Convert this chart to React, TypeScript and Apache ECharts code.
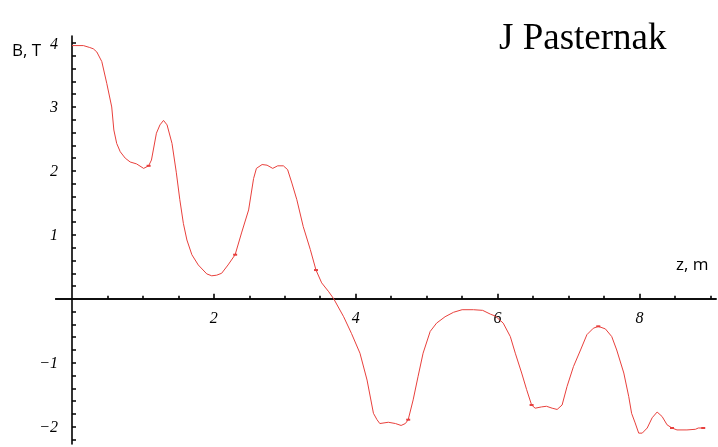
import React, { useEffect, useRef } from "react";
import * as echarts from "echarts";

const zValues = [
  0.0, 0.16, 0.25, 0.3, 0.35, 0.42, 0.49, 0.56, 0.59, 0.63, 0.68, 0.75, 0.82, 0.91, 1.01, 1.08, 1.12, 1.19, 1.24, 1.29,
  1.34, 1.41, 1.47, 1.52, 1.57, 1.62, 1.69, 1.78, 1.9, 1.97, 2.04, 2.11, 2.2, 2.3, 2.39, 2.49, 2.56, 2.6, 2.68, 2.75,
  2.83, 2.9, 2.98, 3.04, 3.1, 3.17, 3.26, 3.36, 3.44, 3.52, 3.62, 3.69, 3.83, 3.94, 4.06, 4.16, 4.25, 4.3, 4.34, 4.46,
  4.56, 4.64, 4.7, 4.74, 4.81, 4.88, 4.95, 5.05, 5.14, 5.26, 5.38, 5.5, 5.66, 5.79, 5.9, 5.97, 6.08, 6.18, 6.25, 6.34,
  6.41, 6.48, 6.53, 6.62, 6.69, 6.77, 6.84, 6.91, 6.98, 7.07, 7.17, 7.26, 7.35, 7.42, 7.52, 7.61, 7.68, 7.78, 7.85, 7.89,
  7.94, 7.99, 8.04, 8.11, 8.18, 8.25, 8.32, 8.39, 8.46, 8.53, 8.67, 8.79, 8.83, 8.9,
];
const bValues = [
  3.96, 3.96, 3.93, 3.91, 3.86, 3.71, 3.37, 3.0, 2.64, 2.43, 2.3, 2.2, 2.14, 2.11, 2.04, 2.08, 2.17, 2.59, 2.72, 2.79,
  2.72, 2.43, 1.98, 1.55, 1.18, 0.92, 0.69, 0.53, 0.39, 0.36, 0.37, 0.4, 0.53, 0.69, 1.03, 1.39, 1.88, 2.04, 2.1, 2.09,
  2.04, 2.08, 2.08, 2.02, 1.81, 1.55, 1.13, 0.77, 0.45, 0.25, 0.11, 0.0, -0.28, -0.54, -0.85, -1.27, -1.79, -1.89, -1.95, -1.93,
  -1.95, -1.98, -1.95, -1.89, -1.58, -1.21, -0.85, -0.51, -0.38, -0.28, -0.21, -0.17, -0.17, -0.18, -0.24, -0.27, -0.38, -0.59, -0.85, -1.16,
  -1.42, -1.66, -1.71, -1.69, -1.68, -1.71, -1.73, -1.66, -1.37, -1.06, -0.8, -0.56, -0.46, -0.43, -0.47, -0.59, -0.8, -1.16, -1.53, -1.79,
  -1.94, -2.1, -2.1, -2.02, -1.86, -1.77, -1.84, -1.97, -2.02, -2.05, -2.05, -2.04, -2.02, -2.02,
];
const markerZ = [1.08, 2.3, 3.44, 4.74, 6.48, 7.42, 8.46, 8.9];
const markerB = [2.08, 0.69, 0.45, -1.89, -1.66, -0.43, -2.02, -2.02];

const xMinorTicks = [0.5, 1, 1.5, 2.5, 3, 3.5, 4.5, 5, 5.5, 6.5, 7, 7.5, 8.5, 9];
const xMajorTicks = [2, 4, 6, 8];
const yTicks = [
  -2.2, -2.0, -1.8, -1.6, -1.4, -1.2, -1.0, -0.8, -0.6, -0.4, -0.2, 0.2, 0.4, 0.6, 0.8, 1.0, 1.2, 1.4, 1.6, 1.8, 2.0,
  2.2, 2.4, 2.6, 2.8, 3.0, 3.2, 3.4, 3.6, 3.8, 4.0,
];
const yLabels = [-2, -1, 1, 2, 3, 4];

const X_MIN = -0.23;
const X_MAX = 9.08;
const Y_MIN = -2.27;
const Y_MAX = 4.11;
const W = 718;
const H = 447;
const GRID = { left: 55.7, right: 2, top: 36, bottom: 3 };

const fmt = (v: number) => (v < 0 ? "\u2212" + Math.abs(v) : String(v));

const labelStyle = {
  fontFamily: "Liberation Serif",
  fontStyle: "italic" as const,
  fontSize: 16,
  color: "#000",
};

export default function App() {
  const ref = useRef<HTMLDivElement>(null);
  useEffect(() => {
    if (!ref.current) return;
    const chart = echarts.init(ref.current, undefined, { renderer: "svg" });
    const data = zValues.map((z, i) => [z, bValues[i]]);
    const markers = markerZ.map((z, i) => [z, markerB[i]]);
    // axes cross at the origin: shift them from the grid edges to the zero lines
    const gw = W - GRID.left - GRID.right;
    const gh = H - GRID.top - GRID.bottom;
    const yOffset = -(gw * (0 - X_MIN)) / (X_MAX - X_MIN);
    const xOffset = -(gh * (0 - Y_MIN)) / (Y_MAX - Y_MIN);
    const xBase = {
      type: "value",
      min: X_MIN,
      max: X_MAX,
      position: "bottom",
      offset: xOffset,
      splitLine: { show: false },
    };
    chart.setOption({
      animation: false,
      grid: { ...GRID, containLabel: false, outerBoundsMode: "none" },
      xAxis: [
        {
          ...xBase,
          axisLine: { show: true, onZero: false, lineStyle: { color: "#000", width: 1.6 } },
          axisTick: { show: true, inside: true, length: 3, customValues: xMinorTicks, lineStyle: { color: "#000", width: 1.6 } },
          axisLabel: { show: false },
        },
        {
          ...xBase,
          axisLine: { show: true, onZero: false, lineStyle: { color: "#000", width: 1.6 } },
          axisTick: { show: true, inside: true, length: 5, customValues: xMajorTicks, lineStyle: { color: "#000", width: 1.6 } },
          axisLabel: { show: true, customValues: xMajorTicks, formatter: fmt, margin: 11, ...labelStyle },
        },
      ],
      yAxis: {
        type: "value",
        min: Y_MIN,
        max: Y_MAX,
        position: "left",
        offset: yOffset,
        axisLine: { show: true, onZero: false, lineStyle: { color: "#000", width: 1.6 } },
        axisTick: { show: true, inside: true, length: 4, customValues: yTicks, lineStyle: { color: "#000", width: 1.5 } },
        axisLabel: { show: true, customValues: yLabels, formatter: fmt, margin: 14, ...labelStyle },
        splitLine: { show: false },
      },
      series: [
        {
          type: "line",
          data,
          xAxisIndex: 0,
          showSymbol: false,
          smooth: false,
          lineStyle: { color: "#e8403c", width: 1 },
        },
        {
          type: "scatter",
          data: markers,
          xAxisIndex: 0,
          symbol: "rect",
          symbolSize: [4, 2],
          itemStyle: { color: "#e01010" },
        },
      ],
      graphic: [
        {
          type: "text",
          left: 12,
          top: 41,
          style: { text: "B, T", font: '17px "Open Sans"', fill: "#000" },
        },
        {
          type: "text",
          left: 676,
          top: 255,
          style: { text: "z, m", font: '17px "Open Sans"', fill: "#000" },
        },
        {
          type: "text",
          left: 499,
          top: 18,
          style: { text: "J Pasternak", font: '37px "Liberation Serif"', fill: "#000" },
        },
      ],
    });
    return () => chart.dispose();
  }, []);
  return <div ref={ref} style={{ width: W, height: H, position: "fixed", left: 0, top: 0 }} />;
}
